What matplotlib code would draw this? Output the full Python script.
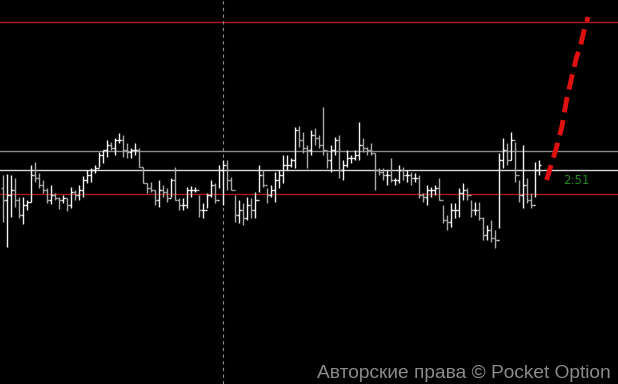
import numpy as np
import matplotlib
matplotlib.use("Agg")
import matplotlib.pyplot as plt

# OHLC bars, price in chart points
highs = [225, 226, 225, 222, 203, 203, 200, 235, 238, 227, 220, 212, 215, 207, 203, 205, 202, 213, 210, 215,
         224, 230, 232, 235, 248, 250, 260, 258, 262, 267, 265, 257, 252, 257, 252, 233, 217, 218, 210, 220,
         215, 212, 222, 233, 202, 202, 213, 214, 213, 205, 197, 207, 220, 217, 235, 240, 240, 223, 205, 200,
         197, 203, 202, 208, 235, 230, 212, 215, 228, 230, 245, 245, 242, 273, 274, 268, 255, 270, 272, 265,
         293, 248, 255, 263, 265, 240, 250, 245, 250, 278, 262, 253, 257, 247, 232, 232, 230, 242, 222, 235,
         233, 230, 228, 227, 225, 207, 215, 213, 215, 222, 195, 185, 197, 197, 212, 217, 212, 200, 198, 198,
         183, 175, 180, 170, 247, 262, 257, 268, 258, 220, 255, 222, 207, 238, 240]
lows = [178, 153, 183, 193, 182, 176, 190, 198, 218, 212, 207, 197, 196, 200, 191, 197, 189, 192, 200, 200,
        203, 217, 218, 227, 233, 237, 243, 250, 245, 257, 243, 242, 242, 245, 233, 217, 207, 208, 195, 193,
        203, 198, 203, 200, 190, 190, 192, 203, 208, 183, 182, 192, 203, 197, 212, 195, 210, 210, 178, 177,
        175, 180, 182, 182, 208, 213, 197, 203, 198, 212, 217, 230, 233, 232, 253, 247, 232, 245, 255, 252,
        245, 232, 228, 245, 222, 220, 233, 237, 240, 240, 248, 245, 245, 210, 225, 220, 215, 218, 215, 217,
        220, 218, 215, 218, 202, 198, 195, 203, 205, 200, 177, 170, 173, 182, 183, 200, 200, 183, 185, 180,
        160, 160, 158, 152, 172, 232, 235, 240, 218, 198, 192, 197, 192, 203, 225]
closes = [200, 205, 210, 200, 185, 195, 198, 225, 222, 215, 210, 200, 205, 202, 200, 202, 195, 208, 205, 210,
          220, 225, 230, 232, 245, 250, 255, 252, 260, 260, 250, 248, 250, 250, 233, 217, 212, 210, 200, 210,
          208, 202, 220, 200, 195, 195, 210, 210, 210, 190, 190, 205, 215, 200, 230, 235, 220, 210, 185, 190,
          182, 195, 190, 200, 225, 215, 205, 210, 220, 225, 235, 235, 240, 270, 260, 252, 250, 265, 262, 255,
          250, 240, 250, 260, 230, 235, 242, 242, 245, 255, 252, 250, 247, 230, 228, 225, 225, 220, 220, 230,
          225, 225, 222, 222, 205, 203, 210, 210, 212, 200, 180, 178, 190, 190, 207, 210, 205, 190, 190, 182,
          165, 170, 162, 160, 240, 250, 240, 260, 225, 205, 215, 200, 195, 230, 235]
first_open = 212
opens = [first_open] + closes[:-1]

# levels
resistance_hi = 378
level_grey = 249
current_price = 230
support = 206
marker_bar = 55

# forecast curve (bar index, price)
fc_x = [135.9, 137.2, 138.4, 139.7, 140.9, 142.2, 143.4, 144.3, 145.5, 146.3]
fc_y = [220, 237, 253, 273, 300, 323, 343, 353, 373, 383]
timer_text = "2:51"

fig = plt.figure(figsize=(6.18, 3.84), dpi=100, facecolor="black")
ax = fig.add_axes([0, 0, 1, 1])
ax.set_facecolor("black")
ax.set_xlim(-0.75, 153.75)
ax.set_ylim(16, 400)
ax.axis("off")

x = np.arange(len(highs))
o = np.array(opens)
c = np.array(closes)
cols = np.where(c >= o, "#f2f2f2", "#a8a8a8")

ax.axhline(resistance_hi, color="#b01818", lw=1)
ax.axhline(level_grey, color="#8a8a8a", lw=1)
ax.axhline(current_price, color="#d8d8d8", lw=1)
ax.axhline(support, color="#b01818", lw=1)
ax.axvline(marker_bar, color="#8a8a8a", lw=0.8, ls=(0, (3, 3)))

ax.vlines(x, lows, highs, colors=cols, lw=1)
ax.hlines(o, x - 0.45, x, colors=cols, lw=1)
ax.hlines(c, x, x + 0.45, colors=cols, lw=1)

ax.plot(fc_x, fc_y, color="#e01010", lw=3.5, ls=(0, (3.2, 1.6)), solid_capstyle="butt")

ax.text(140, 219, timer_text, color="#238a23", fontsize=8.5, va="center", family="DejaVu Sans")
fig.text(0.988, 0.006, "Авторские права © Pocket Option", color="#8c8c8c", fontsize=13.8,
         ha="right", va="bottom", family="Liberation Sans")

fig.savefig("out.png", dpi=100, facecolor="black")
